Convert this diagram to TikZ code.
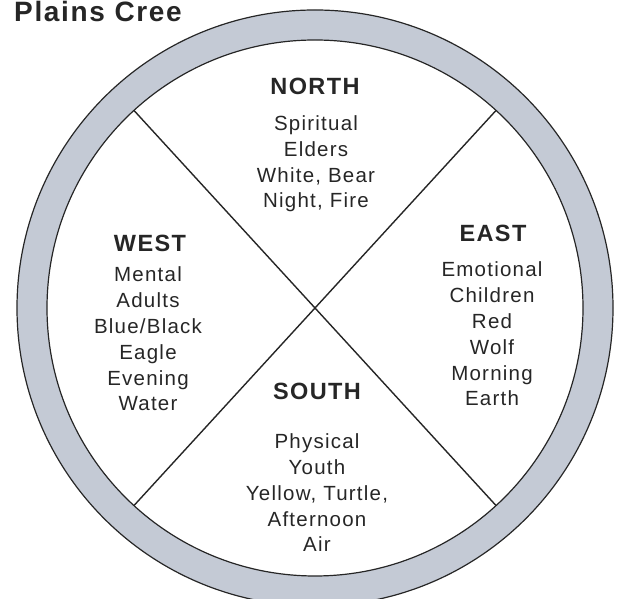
\documentclass[tikz,border=0pt]{standalone}
\usepackage{fontspec}
\setmainfont{Liberation Sans}
\newfontfamily\wheelfont[LetterSpace=6]{Liberation Sans}
\usetikzlibrary{positioning,calc}
\definecolor{ringgray}{RGB}{196,202,213}
\definecolor{inkgray}{RGB}{38,38,38}

\begin{document}
\begin{tikzpicture}[x=1pt,y=1pt,
  dirhead/.style={font=\wheelfont\bfseries\fontsize{23.5}{26}\selectfont,text=inkgray,anchor=base,inner sep=0pt},
  dirbody/.style={font=\wheelfont\fontsize{20.5}{25.8}\selectfont,text=inkgray,align=center,anchor=base,inner sep=0pt}]
  \useasboundingbox (0,0) rectangle (619,599);
  % the wheel
  \coordinate (c) at (315,291);
  \fill[ringgray,even odd rule] (c) circle (298) (c) circle (268);
  \draw[inkgray,line width=1.2pt] (c) circle (298) (c) circle (268);
  \coordinate (ne) at ($(c)+(47.5:268)$);
  \coordinate (nw) at ($(c)+(132.5:268)$);
  \coordinate (sw) at ($(c)+(227.5:268)$);
  \coordinate (se) at ($(c)+(312.5:268)$);
  \draw[inkgray,line width=1.4pt] (nw)--(se);
  \draw[inkgray,line width=1.4pt] (ne)--(sw);
  % title
  \node[font=\wheelfont\bfseries\fontsize{28}{30}\selectfont,text=inkgray,anchor=base west,inner sep=0pt] (title) at (14,577) {Plains Cree};
  % quarters (body nodes sit on the baseline of their last line)
  \node[dirhead] (north) at (315,504) {NORTH};
  \node[dirbody] (northtxt) at (316,391) {Spiritual\\Elders\\White, Bear\\Night, Fire};
  \node[dirhead] (west) at (150,347) {WEST};
  \node[dirbody] (westtxt) at (148,188) {Mental\\Adults\\Blue/Black\\Eagle\\Evening\\Water};
  \node[dirhead] (east) at (493,357) {EAST};
  \node[dirbody] (easttxt) at (492,193) {Emotional\\Children\\Red\\Wolf\\Morning\\Earth};
  \node[dirhead] (south) at (317,199) {SOUTH};
  \node[dirbody] (southtxt) at (317,47) {Physical\\Youth\\Yellow, Turtle,\\Afternoon\\Air};
\end{tikzpicture}
\end{document}
